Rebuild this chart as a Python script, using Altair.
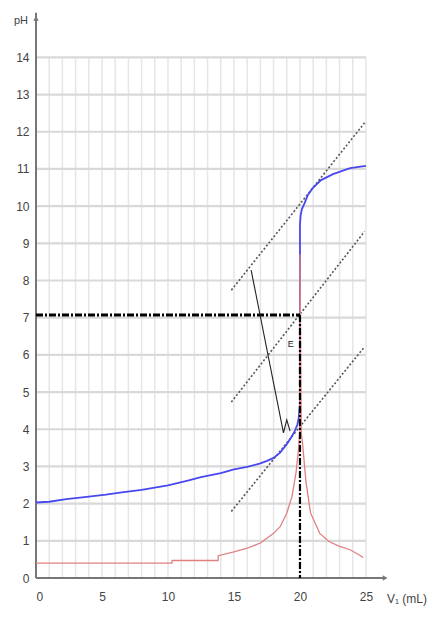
import altair as alt
import pandas as pd

# pH curve (blue)
blue_v = [0, 1, 2.3, 3.5, 5.3, 6.5, 8, 10, 11.5, 12.5, 14, 15, 16, 17, 17.5, 18, 18.5, 19, 19.3, 19.6, 19.8, 19.9, 20, 20, 20.05, 20.15, 20.35, 20.6, 21, 21.6, 22.5, 23.8, 25]
blue_ph = [2.03, 2.05, 2.12, 2.17, 2.24, 2.3, 2.37, 2.49, 2.62, 2.71, 2.82, 2.92, 2.99, 3.08, 3.15, 3.23, 3.37, 3.6, 3.76, 3.95, 4.12, 4.3, 4.7, 9.5, 9.75, 9.92, 10.08, 10.3, 10.5, 10.7, 10.86, 11.02, 11.08]

# derivative curve (red)
red_v = [0, 10.3, 10.31, 13.8, 13.81, 15, 16, 17, 17.5, 18, 18.5, 19, 19.4, 19.7, 19.9, 20, 20, 20.1, 20.2, 20.45, 20.8, 21.5, 22.2, 23, 23.8, 24.5, 24.8]
red_d = [0.4, 0.4, 0.47, 0.47, 0.6, 0.7, 0.8, 0.94, 1.07, 1.2, 1.38, 1.74, 2.2, 2.83, 3.5, 4.0, 8.7, 3.9, 3.6, 2.6, 1.75, 1.2, 0.98, 0.85, 0.76, 0.62, 0.55]

# parallel tangents
tan_x1 = [14.8, 14.8, 14.8]
tan_y1 = [7.74, 4.73, 1.79]
tan_x2 = [24.9, 24.9, 24.9]
tan_y2 = [12.24, 9.32, 6.22]

# connecting segment between tangents, with small hook at the bottom
seg_x = [16.3, 18.75, 19.0, 19.25]
seg_y = [8.28, 3.9, 4.25, 3.95]

# equivalence point
eq_v = 20.0
eq_ph = 7.07

x_ticks = [0, 5, 10, 15, 20, 25]
y_ticks = list(range(0, 15))
grid_v = list(range(0, 26))
grid_h = list(range(0, 15))

FONT = "Liberation Sans"

xs = alt.Scale(domain=[0, 26.67], nice=False, zero=False)
ys = alt.Scale(domain=[0, 15.3], nice=False, zero=False)
xax = alt.Axis(values=x_ticks, labelPadding=13, labelFontSize=12, labelFont=FONT,
               labelColor="#444", domain=False, ticks=False, grid=False, title=None)
yax = alt.Axis(values=y_ticks, labelPadding=7, labelFontSize=12, labelFont=FONT,
               labelColor="#444", domain=False, ticks=False, grid=False, title=None)


def X(f):
    return alt.X(f, type="quantitative", scale=xs, axis=xax)


def Y(f):
    return alt.Y(f, type="quantitative", scale=ys, axis=yax)


gv = pd.DataFrame({"x": grid_v, "y0": 0, "y1": 14})
gh = pd.DataFrame({"y": grid_h, "x0": 0, "x1": 25})

vgrid = alt.Chart(gv).mark_rule(color="#e6e6e6", strokeWidth=1.5).encode(
    x=X("x"), y=Y("y0"), y2="y1")
hgrid = alt.Chart(gh).mark_rule(color="#d9d9d9", strokeWidth=2.2).encode(
    y=Y("y"), x=X("x0"), x2="x1")

axes_df = pd.DataFrame({"x0": [0, 0], "x1": [0, 26.5], "y0": [0, 0], "y1": [15.2, 0]})
axes = alt.Chart(axes_df).mark_rule(color="#777", strokeWidth=2).encode(
    x=X("x0"), x2="x1", y=Y("y0"), y2="y1")
arrows_df = pd.DataFrame({"x": [0, 26.45], "y": [15.05, 0], "s": ["triangle-up", "triangle-right"]})
arrows = alt.Chart(arrows_df).mark_point(filled=True, size=30, color="#777", opacity=1).encode(
    x=X("x"), y=Y("y"),
    shape=alt.Shape("s:N", scale=alt.Scale(domain=["triangle-up", "triangle-right"],
                                           range=["triangle-up", "triangle-right"]), legend=None))

tan_df = pd.DataFrame({"x1": tan_x1, "y1": tan_y1, "x2": tan_x2, "y2": tan_y2})
tangents = alt.Chart(tan_df).mark_rule(color="#555", strokeWidth=1.6, strokeDash=[2, 2]).encode(
    x=X("x1"), y=Y("y1"), x2="x2", y2="y2")

blue_df = pd.DataFrame({"v": blue_v, "p": blue_ph, "i": range(len(blue_v))})
blue = alt.Chart(blue_df).mark_line(color="#4848f0", strokeWidth=1.8).encode(
    x=X("v"), y=Y("p"), order="i")

red_df = pd.DataFrame({"v": red_v, "p": red_d, "i": range(len(red_v))})
red = alt.Chart(red_df).mark_line(color="#e08080", strokeWidth=1.3).encode(
    x=X("v"), y=Y("p"), order="i")

hdd = pd.DataFrame({"x0": [0], "x1": [eq_v], "y": [eq_ph]})
hdash = alt.Chart(hdd).mark_rule(color="black", strokeWidth=3, strokeDash=[7, 2, 2, 2]).encode(
    x=X("x0"), x2="x1", y=Y("y"))
vdd = pd.DataFrame({"x": [eq_v], "y0": [eq_ph], "y1": [0]})
vdash = alt.Chart(vdd).mark_rule(color="black", strokeWidth=2.2, strokeDash=[7, 2, 2, 2]).encode(
    x=X("x"), y=Y("y0"), y2="y1")

seg_df = pd.DataFrame({"x": seg_x, "y": seg_y, "i": range(len(seg_x))})
seg = alt.Chart(seg_df).mark_line(color="#222", strokeWidth=1.1).encode(
    x=X("x"), y=Y("y"), order="i")

e_df = pd.DataFrame({"x": [19.3], "y": [6.3], "t": ["E"]})
elabel = alt.Chart(e_df).mark_text(fontSize=9, font=FONT, color="#222").encode(
    x=X("x"), y=Y("y"), text="t:N")

ph_label = alt.Chart(pd.DataFrame({"t": ["pH"]})).mark_text(
    fontSize=11, font=FONT, color="#444").encode(
    x=alt.value(-15), y=alt.value(12), text="t:N")
v_label = alt.Chart(pd.DataFrame({"t": ["V₁ (mL)"]})).mark_text(
    fontSize=12, font=FONT, color="#444").encode(
    x=alt.value(371), y=alt.value(590), text="t:N")

chart = alt.layer(
    vgrid, hgrid, axes, arrows, tangents, blue, red, hdash, vdash, seg, elabel, ph_label, v_label
).properties(
    width=352, height=569,
    padding={"left": 28, "top": 1, "right": 41, "bottom": 32},
    autosize="none",
).configure_view(stroke=None)

chart.save("out.html", embed_options={"renderer": "svg", "actions": False})
